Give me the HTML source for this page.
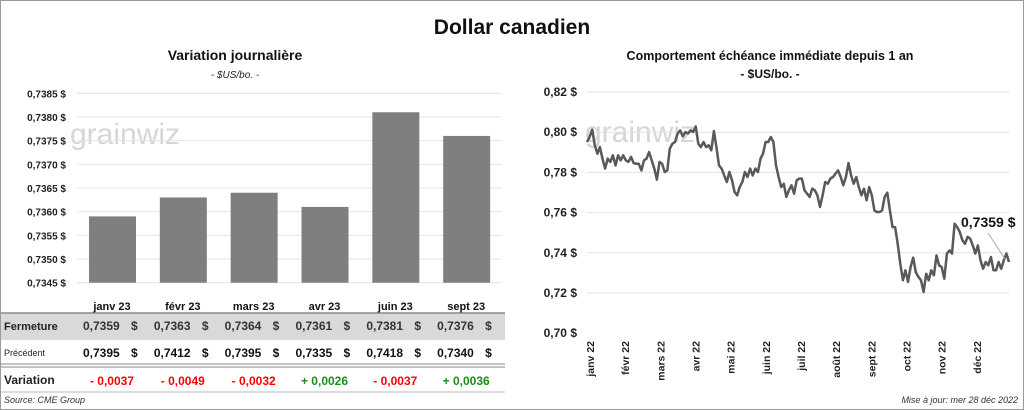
<!DOCTYPE html>
<html><head><meta charset="utf-8"><style>
body{margin:0;background:#fff;}
svg{display:block;font-family:"Liberation Sans",sans-serif;}
</style></head><body>
<svg id="s" width="1024" height="410" xmlns="http://www.w3.org/2000/svg">
<rect x="0.5" y="0.5" width="1023" height="409" fill="#fff" stroke="#9a9a9a"/>
<text x="512" y="34" text-anchor="middle" font-size="21" font-weight="bold" fill="#111">Dollar canadien</text>
<text x="235" y="60" text-anchor="middle" font-size="14" font-weight="bold" fill="#111">Variation  journalière</text>
<text x="235" y="78" text-anchor="middle" font-size="10" font-style="italic" fill="#222">- $US/bo. -</text>
<text x="770" y="60" text-anchor="middle" font-size="12.5" font-weight="bold" fill="#111">Comportement échéance immédiate depuis 1 an</text>
<text x="770" y="78" text-anchor="middle" font-size="12" font-weight="bold" fill="#111">- $US/bo. -</text>
<text x="70" y="144" font-size="30" fill="#d6d6d6">grainwiz</text>
<text x="585" y="142" font-size="30" fill="#d6d6d6">grainwiz</text>
<g id="bars"></g><g id="tbl"></g><g id="line"></g>
<text x="4" y="403" font-size="9" font-style="italic" fill="#333">Source: CME Group</text>
<text x="1018" y="403" text-anchor="end" font-size="9" font-style="italic" fill="#333">Mise à jour: mer 28 déc 2022</text>
</svg>
<script>
const barCats=["janv 23","févr 23","mars 23","avr 23","juin 23","sept 23"];
const closeVals=[0.7359,0.7363,0.7364,0.7361,0.7381,0.7376];
const prevVals=[0.7395,0.7412,0.7395,0.7335,0.7418,0.7340];
const varText=["- 0,0037","- 0,0049","- 0,0032","+ 0,0026","- 0,0037","+ 0,0036"];
const barTicks=[0.7345,0.7350,0.7355,0.7360,0.7365,0.7370,0.7375,0.7380,0.7385];
const lineTicks=[0.70,0.72,0.74,0.76,0.78,0.80,0.82];
const monthLabels=["janv 22","févr 22","mars 22","avr 22","mai 22","juin 22","juil 22","août 22","sept 22","oct 22","nov 22","déc 22"];
const lineVals=[.7951,.7976,.8013,.7935,.7893,.7926,.7868,.7819,.7868,.7852,.7885,.7835,.7885,.7860,.7885,.7860,.7852,.7877,.7847,.7843,.7843,.7810,.7860,.7868,.7901,.7860,.7819,.7764,.7852,.7843,.7802,.7810,.7918,.7943,.7951,.7993,.8009,.7979,.8001,.7993,.8009,.8001,.8029,.7943,.7926,.7951,.7926,.7935,.7910,.8006,.7926,.7835,.7819,.7785,.7752,.7802,.7761,.7702,.7686,.7727,.7752,.7802,.7777,.7819,.7785,.7819,.7802,.7868,.7893,.7951,.7951,.7976,.7951,.7835,.7777,.7727,.7744,.7678,.7711,.7736,.7694,.7761,.7769,.7769,.7711,.7694,.7678,.7719,.7711,.7686,.7628,.7686,.7752,.7744,.7769,.7777,.7794,.7810,.7777,.7736,.7777,.7847,.7785,.7744,.7777,.7727,.7686,.7719,.7661,.7727,.7686,.7611,.7603,.7603,.7611,.7678,.7699,.7611,.7528,.7528,.7445,.7346,.7263,.7313,.7255,.7329,.7376,.7304,.7280,.7263,.7205,.7296,.7263,.7313,.7288,.7387,.7338,.7329,.7271,.7396,.7412,.7396,.7545,.7528,.7503,.7462,.7445,.7479,.7470,.7437,.7396,.7437,.7363,.7321,.7354,.7338,.7379,.7313,.7313,.7354,.7321,.7363,.7396,.7354];
const lastLabel="0,7359 $";
const NS="http://www.w3.org/2000/svg";
function mk(t,a,p,txt){const e=document.createElementNS(NS,t);for(const k in a)e.setAttribute(k,a[k]);if(txt!==undefined)e.textContent=txt;p.appendChild(e);return e;}
const fmt=(v,d)=>v.toFixed(d).replace('.',',');
// bar chart
const bg=document.getElementById('bars');
const bx0=77,bx1=502,by=v=>93.3+(0.7385-v)/0.004*189.4,bw=(bx1-bx0)/barCats.length;
barTicks.forEach(t=>{
 const l=mk('line',{x1:bx0,x2:bx1,y1:by(t),y2:by(t),stroke:'#e4e4e4','stroke-width':1},bg);
 
 
 const tx=mk('text',{x:66,y:by(t)+4,'text-anchor':'end','font-size':10,'font-weight':'bold',fill:'#222'},bg,fmt(t,4)+' $');
 
 
});
closeVals.forEach((v,i)=>{
 const r=mk('rect',{x:bx0+bw*i+12,y:by(v),width:47,height:by(0.7345)-by(v),fill:'#7f7f7f'},bg);
 
 
});
// table
const tg=document.getElementById('tbl');
mk('rect',{x:1,y:313,width:504,height:27,fill:'#d9d9d9'},tg);
mk('line',{x1:1,x2:505,y1:313,y2:313,stroke:'#8a8a8a','stroke-width':1.5},tg);
mk('line',{x1:1,x2:505,y1:364,y2:364,stroke:'#8a8a8a','stroke-width':1},tg);
mk('line',{x1:1,x2:505,y1:367,y2:367,stroke:'#8a8a8a','stroke-width':1},tg);
mk('line',{x1:1,x2:505,y1:392,y2:392,stroke:'#bbb','stroke-width':1},tg);
const rl=[["Fermeture",330,11,'bold'],["Précédent",356,9,'normal'],["Variation",384,12,'bold']];
rl.forEach(r=>{const t=mk('text',{x:4,y:r[1],'font-size':r[2],'font-weight':r[3],fill:'#222'},tg,r[0]);
 
 });
barCats.forEach((c,i)=>{
 const cx=bx0+bw*i+35;
 const h=mk('text',{x:cx,y:310,'text-anchor':'middle','font-size':11,'font-weight':'bold',fill:'#111'},tg,c);
 
 
 const a=mk('text',{x:83+bw*i,y:330,'font-size':12,'font-weight':'bold',fill:'#333'},tg,fmt(closeVals[i],4));
 
 
 mk('text',{x:131+bw*i,y:330,'font-size':12,'font-weight':'bold',fill:'#333'},tg,'$');
 const b=mk('text',{x:83+bw*i,y:357,'font-size':12,'font-weight':'bold',fill:'#111'},tg,fmt(prevVals[i],4));
 
 
 mk('text',{x:131+bw*i,y:357,'font-size':12,'font-weight':'bold',fill:'#111'},tg,'$');
 const d=mk('text',{x:cx,y:385,'text-anchor':'middle','font-size':12,'font-weight':'bold',fill:varText[i][0]=='+'?'#1a8c1a':'#ff0000'},tg,varText[i]);
 
 
});
// line chart
const lg=document.getElementById('line');
const lx0=587,lx1=1009,ly=v=>92+(0.82-v)/0.02*40.2;
lineTicks.forEach(t=>{
 if(t>0.705){const l=mk('line',{x1:lx0,x2:lx1,y1:ly(t),y2:ly(t),stroke:'#e2e2e2','stroke-width':1},lg);
 
 }
 const tx=mk('text',{x:577,y:ly(t)+4,'text-anchor':'end','font-size':12,'font-weight':'bold',fill:'#222'},lg,fmt(t,2)+' $');
 
 
});
const mw=(lx1-lx0)/12;
monthLabels.forEach((m,i)=>{
 const x=lx0+mw*i+7;
 const t=mk('text',{x:x,y:341,'text-anchor':'end','font-size':10.5,'font-weight':'bold',fill:'#222',transform:`rotate(-90 ${x} 341)`},lg,m);
 
 
});
const n=lineVals.length,lxx=i=>lx0+i/(n-1)*(lx1-lx0);
const pts=lineVals.map((v,i)=>lxx(i).toFixed(1)+','+ly(v).toFixed(1)).join(' ');
const pl=mk('polyline',{points:pts,fill:'none',stroke:'#595959','stroke-width':2.5,'stroke-linejoin':'round'},lg);


const ex=lxx(n-1)-2,ey=ly(lineVals[n-1]);
mk('line',{x1:988,y1:233,x2:ex-2,y2:ey-3,stroke:'#aaa','stroke-width':1},lg);
const al=mk('text',{x:961,y:227,'font-size':14,'font-weight':'bold',fill:'#111'},lg,lastLabel);


</script>
</body></html>
